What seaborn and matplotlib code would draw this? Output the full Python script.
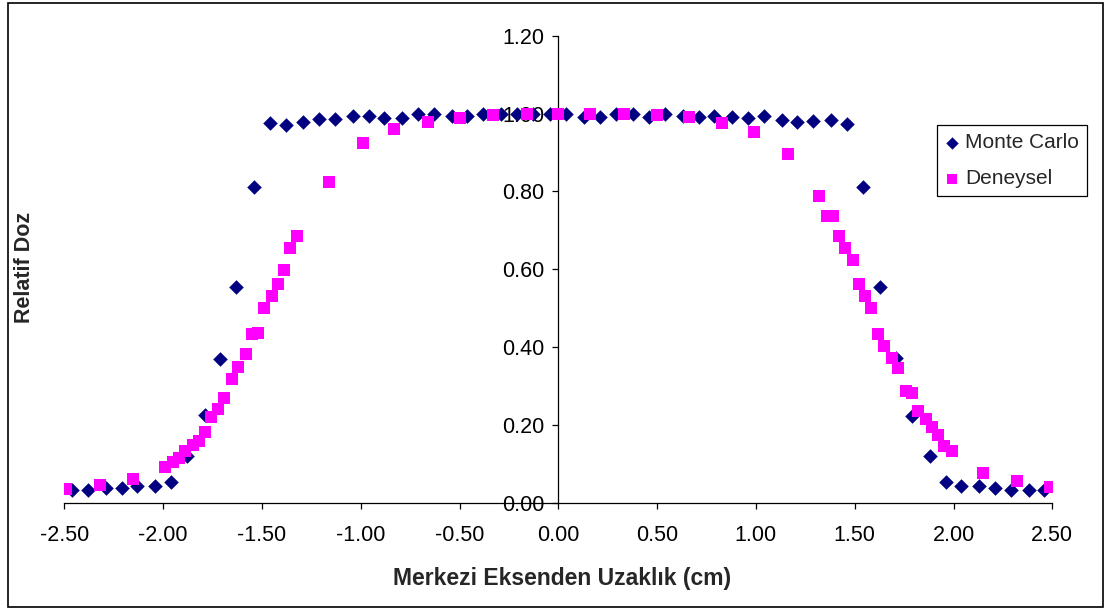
import pandas as pd
import matplotlib
matplotlib.use('Agg')
import matplotlib.pyplot as plt
from matplotlib.patches import Rectangle
from matplotlib.ticker import FormatStrFormatter, MultipleLocator
import seaborn as sns

# Monte Carlo (diamonds)
mc_x = [-2.46, -2.38, -2.29, -2.21, -2.13, -2.04, -1.96, -1.88, -1.79, -1.71,
        -1.63, -1.54, -1.46, -1.38, -1.29, -1.21, -1.13, -1.04, -0.96, -0.88,
        -0.79, -0.71, -0.63, -0.54, -0.46, -0.38, -0.29, -0.21, -0.13, -0.04,
        0.04, 0.13, 0.21, 0.29, 0.38, 0.46, 0.54, 0.63, 0.71, 0.79,
        0.88, 0.96, 1.04, 1.13, 1.21, 1.29, 1.38, 1.46, 1.54, 1.63,
        1.71, 1.79, 1.88, 1.96, 2.04, 2.13, 2.21, 2.29, 2.38, 2.46]
mc_y = [0.033, 0.033, 0.037, 0.039, 0.042, 0.043, 0.054, 0.119, 0.225, 0.368,
        0.553, 0.811, 0.976, 0.971, 0.977, 0.987, 0.987, 0.994, 0.994, 0.988,
        0.988, 0.999, 0.999, 0.994, 0.994, 0.999, 0.999, 0.999, 0.999, 0.998,
        0.998, 0.990, 0.992, 0.998, 0.998, 0.992, 0.998, 0.994, 0.992, 0.994,
        0.992, 0.988, 0.994, 0.984, 0.977, 0.981, 0.983, 0.972, 0.811, 0.553,
        0.372, 0.224, 0.121, 0.054, 0.043, 0.043, 0.037, 0.033, 0.033, 0.033]

# Deneysel (squares)
dn_x = [-2.49, -2.32, -2.15, -1.99, -1.95, -1.92, -1.89, -1.85, -1.82, -1.79,
        -1.76, -1.72, -1.69, -1.65, -1.62, -1.58, -1.55, -1.52, -1.49, -1.45,
        -1.42, -1.39, -1.36, -1.32, -1.16, -0.99, -0.83, -0.66, -0.50, -0.33,
        -0.16, 0.00, 0.16, 0.33, 0.50, 0.66, 0.83, 0.99, 1.16, 1.32,
        1.36, 1.39, 1.42, 1.45, 1.49, 1.52, 1.55, 1.58, 1.62, 1.65,
        1.69, 1.72, 1.76, 1.79, 1.82, 1.86, 1.89, 1.92, 1.95, 1.99,
        2.15, 2.32, 2.49]
dn_y = [0.035, 0.046, 0.061, 0.091, 0.104, 0.114, 0.133, 0.149, 0.159, 0.181,
        0.220, 0.242, 0.268, 0.319, 0.349, 0.381, 0.433, 0.437, 0.500, 0.531,
        0.562, 0.598, 0.655, 0.686, 0.825, 0.923, 0.959, 0.979, 0.989, 0.996,
        1.000, 1.000, 1.000, 1.000, 0.996, 0.990, 0.975, 0.953, 0.897, 0.789,
        0.737, 0.737, 0.686, 0.655, 0.624, 0.562, 0.531, 0.500, 0.433, 0.402,
        0.372, 0.345, 0.286, 0.282, 0.235, 0.216, 0.195, 0.175, 0.145, 0.133,
        0.076, 0.057, 0.041]

x_ticks = [-2.5, -2.0, -1.5, -1.0, -0.5, 0.0, 0.5, 1.0, 1.5, 2.0, 2.5]

mc = pd.DataFrame({'x': mc_x, 'y': mc_y})
dn = pd.DataFrame({'x': dn_x, 'y': dn_y})

sns.set_style('white')
plt.rcParams['font.family'] = ['Liberation Sans', 'DejaVu Sans']

W, H = 1108, 612
fig = plt.figure(figsize=(W / 100, H / 100), dpi=100)
ax = fig.add_axes([64.3 / W, 1 - 502.7 / H, 988 / W, 467 / H])

sns.scatterplot(data=mc, x='x', y='y', marker='D', color='#000080', s=55,
                linewidth=0, label='Monte Carlo', ax=ax, zorder=3)
sns.scatterplot(data=dn, x='x', y='y', marker='s', color='#FF00FF', s=75,
                linewidth=0, label='Deneysel', ax=ax, zorder=4)

ax.set_xlim(-2.5, 2.5)
ax.set_ylim(0, 1.2)
ax.set_xticks(x_ticks)
ax.yaxis.set_major_locator(MultipleLocator(0.2))
ax.xaxis.set_major_formatter(FormatStrFormatter('%.2f'))
ax.yaxis.set_major_formatter(FormatStrFormatter('%.2f'))

ax.spines['top'].set_visible(False)
ax.spines['right'].set_visible(False)
ax.spines['left'].set_position(('data', 0))
for side in ['left', 'bottom']:
    ax.spines[side].set_color('black')
    ax.spines[side].set_linewidth(0.9)
ax.tick_params(axis='both', direction='out', length=4.3, width=0.9,
               color='black', labelsize=15.5, labelcolor='black')
ax.tick_params(axis='x', pad=11.5, bottom=True)
ax.tick_params(axis='y', pad=5.5, left=True)
ax.set_xlabel('')
ax.set_ylabel('')

fig.text(25 / W, 1 - 267 / H, 'Relatif Doz', rotation=90, ha='center',
         va='center', fontsize=15.5, fontweight='bold')
fig.text(562 / W, 1 - 578 / H, 'Merkezi Eksenden Uzaklık (cm)', ha='center',
         va='center', fontsize=16.5, fontweight='bold')

leg = ax.legend(loc='upper left', bbox_to_anchor=(937 / W, 1 - 125 / H),
                bbox_transform=fig.transFigure, borderaxespad=0, fontsize=15,
                frameon=True, fancybox=False, shadow=False, handlelength=0.6,
                handletextpad=0.35, labelspacing=0.8, borderpad=0.4,
                markerscale=0.85)
leg.get_frame().set_edgecolor('black')
leg.get_frame().set_linewidth(0.9)
leg.get_frame().set_alpha(1)

fig.patches.append(Rectangle((8 / W, 1 - 607 / H), 1095 / W, 604 / H,
                             transform=fig.transFigure, fill=False,
                             edgecolor='black', linewidth=1.2))

plt.savefig('out.png', dpi=100)
